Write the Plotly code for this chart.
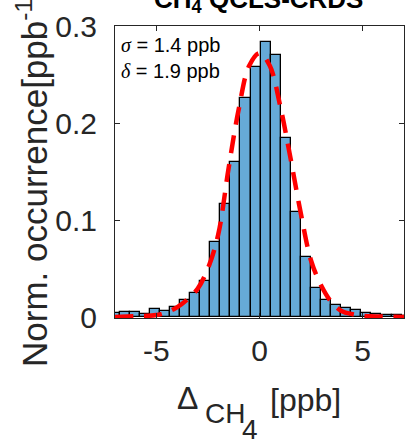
import plotly.graph_objects as go

# Histogram bins (centres, ppb) and normalized occurrence values
bin_centers = [-7.024, -6.536, -6.048, -5.560, -5.072, -4.584, -4.096, -3.608,
               -3.120, -2.632, -2.144, -1.656, -1.168, -0.680, -0.192, 0.296,
               0.784, 1.272, 1.760, 2.248, 2.736, 3.224, 3.712, 4.200, 4.688,
               5.176, 5.664, 6.152, 6.640, 7.128]
bin_values = [0.0038, 0.0048, 0.0055, 0.0034, 0.0082, 0.0062, 0.0099, 0.0178,
              0.0243, 0.0373, 0.0773, 0.1169, 0.1597, 0.2256, 0.2578, 0.2835,
              0.2704, 0.1849, 0.1080, 0.0622, 0.0297, 0.0178, 0.0123, 0.0089,
              0.0075, 0.0041, 0.0031, 0.0020, 0.0020, 0.0015]
bin_width = 0.488

# Fitted curve
fit_x = [-7, -6, -5, -4.5, -4, -3.5, -3, -2.5, -2, -1.5, -1, -0.5, 0, 0.5,
         1, 1.5, 2, 2.5, 3, 3.5, 4, 4.5, 5, 6, 7]
fit_y = [0.0, 0.0008, 0.002, 0.005, 0.010, 0.018, 0.029, 0.050, 0.085, 0.153,
         0.215, 0.259, 0.272, 0.259, 0.218, 0.164, 0.107, 0.058, 0.032, 0.015,
         0.006, 0.003, 0.0012, 0.0005, 0.0]

x_ticks = [-5, 0, 5]
y_ticks = [0, 0.1, 0.2, 0.3]
y_tick_labels = ["0", "0.1", "0.2", "0.3"]

W, H = 406, 439
L, R, T, B = 115, 2, 26, 121
pw, ph = W - L - R, H - T - B

def px(X):
    return (X - L) / pw

def py(Y):
    return (H - B - Y) / ph

TXT = "#262626"
FONT = "Liberation Sans, Arial, sans-serif"
SERIF_I = "<span style=\"font-family:'Liberation Serif';font-style:italic\">{}</span>"

fig = go.Figure()
fig.add_trace(go.Bar(
    x=bin_centers, y=bin_values, width=bin_width,
    marker=dict(color="rgb(102,170,215)", line=dict(color="black", width=1.3)),
    showlegend=False,
))
fig.add_trace(go.Scatter(
    x=fit_x, y=fit_y, mode="lines", line_shape="spline",
    line=dict(color="#FF0000", width=4.5, dash="18px,11px"),
    showlegend=False,
))

axis_common = dict(
    showline=True, linecolor=TXT, linewidth=1, mirror="ticks",
    ticks="inside", ticklen=5, tickwidth=1, tickcolor=TXT,
    showgrid=False, zeroline=False,
    tickfont=dict(family=FONT, size=30, color=TXT),
)
fig.update_xaxes(range=[-7, 7], tickvals=x_ticks, ticktext=["-5", "0", "5"],
                 ticklabelstandoff=6, **axis_common)
fig.update_yaxes(range=[-0.001, 0.3], tickvals=y_ticks, ticktext=y_tick_labels,
                 ticklabelstandoff=11, **axis_common)

ann = []
# title (partly cut off at the top)
ann.append(dict(text="<b>CH<sub>4</sub> QCLS-CRDS</b>", x=px(258), y=py(19),
                xanchor="center", yanchor="bottom",
                font=dict(family=FONT, size=26, color="black")))
# stats text
ann.append(dict(text=SERIF_I.format("σ") + " = 1.4 ppb",
                x=px(119), y=py(45), xanchor="left", yanchor="middle",
                font=dict(family=FONT, size=20, color="black")))
ann.append(dict(text=SERIF_I.format("δ") + " = 1.9 ppb",
                x=px(119), y=py(71), xanchor="left", yanchor="middle",
                font=dict(family=FONT, size=20, color="black")))
# y title
ann.append(dict(text="Norm. occurrence[ppb<sup>-1</sup>]", textangle=-90,
                x=px(32), y=py(178), xanchor="center", yanchor="middle",
                font=dict(family=FONT, size=35, color=TXT)))
# x title pieces
ann.append(dict(text="Δ", x=px(187), y=py(398), xanchor="center", yanchor="middle",
                font=dict(family=FONT, size=32, color=TXT)))
ann.append(dict(text="CH", x=px(225), y=py(413), xanchor="center", yanchor="middle",
                font=dict(family=FONT, size=28, color=TXT)))
ann.append(dict(text="4", x=px(250), y=py(429), xanchor="center", yanchor="middle",
                font=dict(family=FONT, size=28, color=TXT)))
ann.append(dict(text="[ppb]", x=px(305), y=py(400), xanchor="center", yanchor="middle",
                font=dict(family=FONT, size=32, color=TXT)))
for a in ann:
    a.update(xref="paper", yref="paper", showarrow=False)

fig.update_layout(
    width=W, height=H,
    margin=dict(l=L, r=R, t=T, b=B, autoexpand=False),
    paper_bgcolor="white", plot_bgcolor="white",
    bargap=0, annotations=ann,
)
fig.write_html("out.html", config={"displayModeBar": False},
               post_script="document.body.style.margin='0';document.body.style.overflow='hidden';")
